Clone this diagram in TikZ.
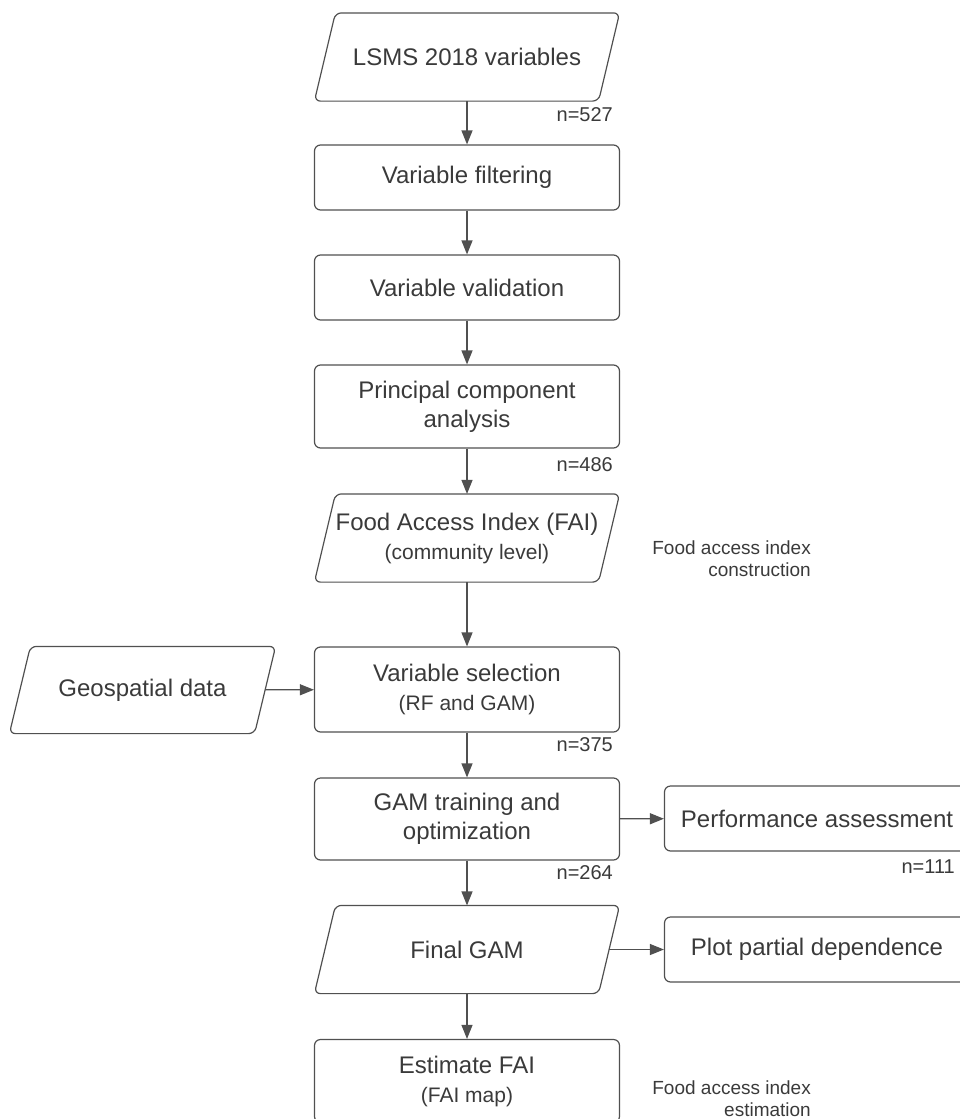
\documentclass[tikz,border=0pt]{standalone}
\usepackage{fontspec}
\setmainfont{Liberation Sans}
\usetikzlibrary{arrows.meta}
\definecolor{linegray}{HTML}{505050}
\definecolor{textgray}{HTML}{3A3A3A}
\newcommand{\subfont}{\fontsize{21}{25}\selectfont}
\tikzset{
  boxline/.style={draw=linegray, line width=1.2pt, rounded corners=6pt},
  procbox/.style={boxline, minimum width=305pt, minimum height=65pt,
    inner sep=0pt, align=center, text=textgray,
    font=\fontsize{24}{29}\selectfont},
  % slanted data box: invisible body, outline drawn round it
  databox/.style={procbox, draw=none, minimum width=283pt, minimum height=87pt,
    append after command={\pgfextra{\draw[boxline]
      ([xshift=10.5pt]\tikzlastnode.north west) --
      ([xshift=10.5pt]\tikzlastnode.north east) --
      ([xshift=-10.5pt]\tikzlastnode.south east) --
      ([xshift=-10.5pt]\tikzlastnode.south west) -- cycle;}}},
  countlabel/.style={anchor=east, inner sep=0pt, text=textgray,
    font=\fontsize{20}{24}\selectfont},
  notelabel/.style={anchor=east, inner sep=0pt, align=right, text=textgray,
    font=\fontsize{19}{22}\selectfont},
  flow/.style={draw=linegray, line width=1.2pt, -{Triangle[length=14pt,width=11pt]}}
}
\begin{document}
\begin{tikzpicture}[x=1pt, y=-1pt]
  \useasboundingbox (0,0) rectangle (960,1119);

  % Main column
  \node[databox] (lsms) at (467,57) {LSMS 2018 variables};
  \node[procbox] (filter) at (467,177.5) {Variable filtering};
  \node[procbox] (valid) at (467,287.5) {Variable validation};
  \node[procbox, minimum height=83pt] (pca) at (467,406.5) {Principal component\\analysis};
  \node[databox] (fai) at (467,538) {Food Access Index (FAI)\\{\subfont (community level)}};
  \node[procbox, minimum height=85pt] (select) at (467,689.5) {Variable selection\\{\subfont (RF and GAM)}};
  \node[procbox, minimum height=82pt] (train) at (467,819) {GAM training and\\optimization};
  \node[databox] (final) at (467,949.5) {Final GAM};
  \node[procbox, minimum height=83pt] (estimate) at (467,1081) {Estimate FAI\\{\subfont (FAI map)}};

  % Side boxes
  \node[databox, minimum width=244pt, minimum height=86pt] (geo) at (142.5,690) {Geospatial data};
  \node[procbox] (perf) at (817,818.5) {Performance assessment};
  \node[procbox] (plot) at (817,949.5) {Plot partial dependence};

  % Flow arrows
  \draw[flow] (lsms) -- (filter);
  \draw[flow] (filter) -- (valid);
  \draw[flow] (valid) -- (pca);
  \draw[flow] (pca) -- (fai);
  \draw[flow] (fai) -- (select);
  \draw[flow] (geo) -- (select);
  \draw[flow] (select) -- (train);
  \draw[flow] (train) -- (perf);
  \draw[flow] (train) -- (final);
  \draw[flow] (final) -- (plot);
  \draw[flow] (final) -- (estimate);

  % Sample sizes
  \node[countlabel] (n527) at (613,115) {n=527};
  \node[countlabel] (n486) at (613,465) {n=486};
  \node[countlabel] (n375) at (613,745) {n=375};
  \node[countlabel] (n264) at (613,873) {n=264};
  \node[countlabel] (n111) at (955,867) {n=111};

  % Stage notes
  \node[notelabel] (construct) at (811,559) {Food access index\\construction};
  \node[notelabel] (estimation) at (811,1099) {Food access index\\estimation};
\end{tikzpicture}
\end{document}
